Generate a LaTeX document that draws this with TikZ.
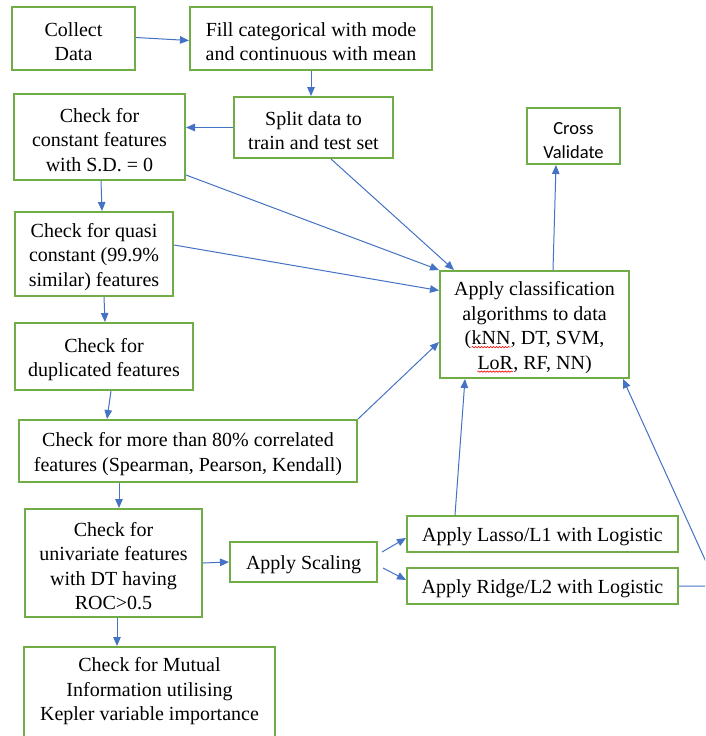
\documentclass[tikz,border=0pt]{standalone}
\usepackage{fontspec}
\setmainfont{Liberation Serif}
\newfontfamily\calib{Carlito}
\usetikzlibrary{arrows.meta,decorations.pathmorphing}
\definecolor{boxgreen}{RGB}{112,173,71}
\definecolor{arrblue}{RGB}{68,114,196}
\newcommand\st{\rule{0pt}{20pt}}
\newcommand\sqg[1]{\tikz[baseline=(sqw.base)]{\node[inner sep=0pt,outer sep=0pt,minimum width=0pt,minimum height=0pt,draw=none,align=left] (sqw) {#1};
  \draw[red,line width=0.6pt,decorate,decoration={snake,amplitude=0.7pt,segment length=3pt}]
    ([yshift=-2.5pt]sqw.base west) -- ([yshift=-2.5pt]sqw.base east);}}
\tikzset{
  box/.style={draw=boxgreen, line width=2pt, align=center, inner sep=0pt,
    font=\fontsize{20}{24.5}\selectfont},
  txt/.style={align=center, inner sep=0pt, font=\fontsize{20}{24.5}\selectfont},
  arr/.style={draw=arrblue, line width=1pt, -{Triangle[length=9pt,width=7.5pt]}},
}
\begin{document}
\begin{tikzpicture}[x=1pt,y=-1pt]
\useasboundingbox (0,0) rectangle (705,736);
\clip (0,0) rectangle (705,736);
\fill[white] (0,0) rectangle (705,736);

\node[box,minimum width=123pt,minimum height=63pt] (collect) at (73.5,38.5) {\st Collect\\Data};
\node[box,minimum width=242pt,minimum height=63pt] (fill) at (311,38.5) {\st Fill categorical with mode\\and continuous with mean};
\node[box,minimum width=159pt,minimum height=61pt] (split) at (313.5,127.5) {\st Split data to\\train and test set};
\node[box,minimum width=171pt,minimum height=86pt] (const) at (99.5,137) {\st Check for\\constant features\\with S.D. = 0};
\node[box,minimum width=158pt,minimum height=84pt] (quasi) at (94,254) {\st Check for quasi\\constant (99.9\%\\similar) features};
\node[box,minimum width=178pt,minimum height=67pt] (dup) at (104,356.5) {\st Check for\\duplicated features};
\node[box,minimum width=338pt,minimum height=62pt] (corr) at (188,451) {\st Check for more than 80\% correlated\\features (Spearman, Pearson, Kendall)};
\node[box,minimum width=177pt,minimum height=108pt] (univ) at (113.5,563) {\st Check for\\univariate features\\with DT having\\ROC>0.5};
\node[box,minimum width=251pt,minimum height=104pt,anchor=north] (mutual) at (149.5,646) {};
\node[txt] (mutualtext) at (149.5,691.5) {Check for Mutual\\Information utilising\\Kepler variable importance};
\node[box,minimum width=147pt,minimum height=40pt] (scaling) at (303.5,562) {\st Apply Scaling};
\node[box,minimum width=271pt,minimum height=36pt] (lasso) at (542.5,534) {\st Apply Lasso/L1 with Logistic};
\node[box,minimum width=271pt,minimum height=36pt] (ridge) at (542.5,586) {\st Apply Ridge/L2 with Logistic};
\node[box,minimum width=189pt,minimum height=107pt] (classif) at (534.5,324.5) {\st Apply classification\\algorithms to data\\(\sqg{kNN}, DT, SVM,\\\sqg{LoR}, RF, NN)};
\node[box,minimum width=93pt,minimum height=56pt,font=\calib\fontsize{18.5}{24}\selectfont] (cross) at (573.5,136) {\rule{0pt}{22pt}Cross\\Validate};

\coordinate (corner) at (717,586);

\draw[arr] ([yshift=1pt]collect.east) -- ([yshift=-2pt]fill.west);
\draw[arr] (fill.south) -- (fill.south |- split.north);
\draw[arr] (split.west) -- (split.west -| const.east);
\draw[arr] ([xshift=1.5pt]const.south) -- ([xshift=8pt]quasi.north);
\draw[arr] ([xshift=10pt]quasi.south) -- ([xshift=1pt]dup.north);
\draw[arr] ([xshift=7pt]dup.south) -- ([xshift=-81pt]corr.north);
\draw[arr] ([xshift=-69pt]corr.south) -- ([xshift=5.5pt]univ.north);
\draw[arr] ([xshift=3.5pt]univ.south) -- ([xshift=-32.5pt]mutual.north);
\draw[arr] (univ.east) -- (scaling.west);
\draw[arr] ([shift={(4pt,10pt)}]scaling.east) -- ([yshift=-4pt]lasso.west);
\draw[arr] ([shift={(5pt,-6pt)}]scaling.east) -- ([yshift=6pt]ridge.west);
\draw[arr] ([xshift=-87.5pt]lasso.north) -- ([xshift=-69.5pt]classif.south);
\draw[arr] ([yshift=-38pt]const.east) -- (classif.north west);
\draw[arr] ([xshift=17.5pt]split.south) -- ([xshift=15pt]classif.north west);
\draw[arr] ([yshift=9pt]quasi.east) -- ([yshift=34pt]classif.west);
\draw[arr] (corr.north east) -- ([yshift=-17.5pt]classif.west);
\draw[arr] ([xshift=18.5pt]classif.north) -- ([xshift=-17.5pt]cross.south);
\draw[arr] (ridge.east) -- (corner) -- ([xshift=-7pt]classif.south east);
\end{tikzpicture}
\end{document}
